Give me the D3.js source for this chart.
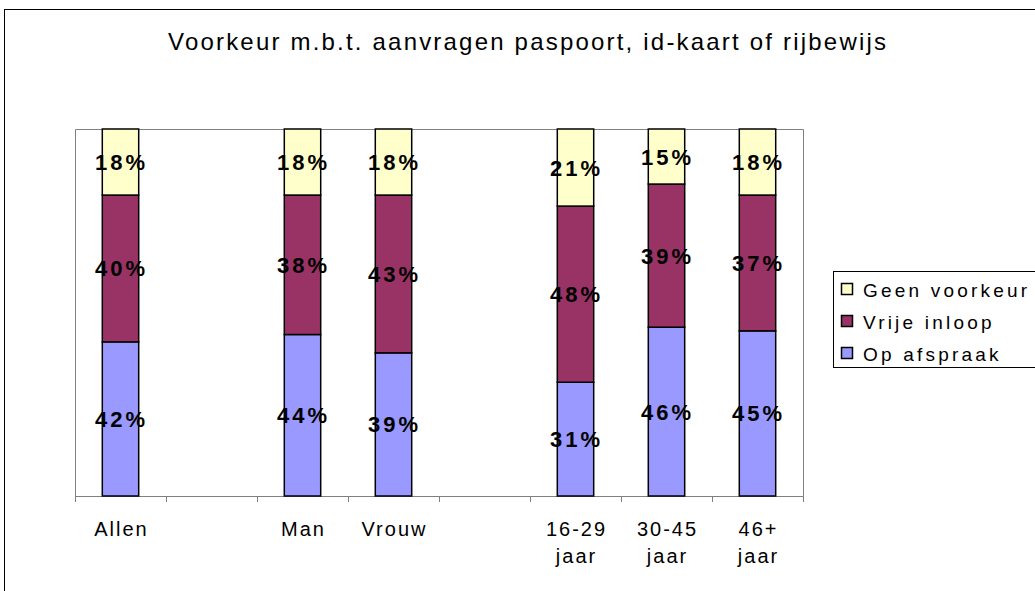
<!DOCTYPE html>
<html>
<head>
<meta charset="utf-8">
<script src="https://d3js.org/d3.v7.min.js"></script>
<style>
  body { margin: 0; background: #fff; }
  text { font-family: "Liberation Sans", Arial, sans-serif; fill: #000; }
</style>
</head>
<body>
<svg id="chart" width="1035" height="591"></svg>
<script>
    // categories (empty strings are spacer slots)
    const categories = ["Allen", "", "Man", "Vrouw", "", "16-29 jaar", "30-45 jaar", "46+ jaar"];
    const series = ["Op afspraak", "Vrije inloop", "Geen voorkeur"];
    const opAfspraak   = [42, null, 44, 39, null, 31, 46, 45];
    const vrijeInloop  = [40, null, 38, 43, null, 48, 39, 37];
    const geenVoorkeur = [18, null, 18, 18, null, 21, 15, 18];
    const colors = ["#9999FF", "#993366", "#FFFFCC"];

    const svg = d3.select("#chart");
    const width = +svg.attr("width");
    const height = +svg.attr("height");

    // outer chart frame
    svg.append("rect")
        .attr("x", 4.5).attr("y", 9.5)
        .attr("width", width + 10).attr("height", height + 10)
        .attr("fill", "none").attr("stroke", "#000").attr("stroke-width", 1);

    // title
    svg.append("text")
        .attr("x", 527).attr("y", 50)
        .attr("text-anchor", "middle")
        .attr("font-size", 24)
        .attr("textLength", 718)
        .attr("lengthAdjust", "spacing")
        .text("Voorkeur m.b.t. aanvragen paspoort, id-kaart of rijbewijs");

    const plot = {left: 75, top: 129, right: 803, bottom: 496};

    const x = d3.scaleBand()
        .domain(d3.range(categories.length))
        .range([plot.left, plot.right])
        .paddingInner(0.6).paddingOuter(0.3);
    const slot = (plot.right - plot.left) / categories.length;

    const y = d3.scaleLinear().domain([0, 100]).range([plot.bottom, plot.top]);

    // plot area border (grey)
    svg.append("path")
        .attr("d", `M${plot.left + 0.5},${plot.bottom}V${plot.top + 0.5}H${plot.right + 0.5}V${plot.bottom}`)
        .attr("fill", "none").attr("stroke", "#808080");

    // x axis with ticks between slots
    const g = svg.append("g");
    g.append("line")
        .attr("x1", plot.left).attr("x2", plot.right + 1)
        .attr("y1", plot.bottom + 0.5).attr("y2", plot.bottom + 0.5)
        .attr("stroke", "#808080");
    d3.range(categories.length + 1).forEach(i => {
        const tx = Math.round(plot.left + i * slot) + 0.5;
        g.append("line")
            .attr("x1", tx).attr("x2", tx)
            .attr("y1", plot.bottom).attr("y2", plot.bottom + 6)
            .attr("stroke", "#808080");
    });

    // category labels
    categories.forEach((c, i) => {
        if (!c) return;
        const cx = plot.left + (i + 0.5) * slot;
        const lines = c.split(" ");
        const t = svg.append("text")
            .attr("text-anchor", "middle")
            .attr("font-size", 20)
            .attr("letter-spacing", 2);
        lines.forEach((ln, k) => {
            t.append("tspan").attr("x", cx + 1).attr("y", 536 + k * 27).text(ln);
        });
    });

    // stacked data
    const rows = categories.map((c, i) => ({
        i,
        "Op afspraak": opAfspraak[i],
        "Vrije inloop": vrijeInloop[i],
        "Geen voorkeur": geenVoorkeur[i]
    })).filter(d => d["Op afspraak"] != null);

    const stack = d3.stack().keys(series)(rows);

    const layers = svg.selectAll(".layer").data(stack).join("g")
        .attr("fill", (d, k) => colors[k]);

    layers.selectAll("rect").data(d => d).join("rect")
        .attr("x", d => x(d.data.i))
        .attr("width", x.bandwidth())
        .attr("y", d => y(d[1]))
        .attr("height", d => y(d[0]) - y(d[1]))
        .attr("stroke", "#000").attr("stroke-width", 1.5);

    layers.selectAll("text").data(d => d).join("text")
        .attr("x", d => x(d.data.i) + x.bandwidth() / 2 + 1)
        .attr("y", d => (y(d[0]) + y(d[1])) / 2 + 8)
        .attr("text-anchor", "middle")
        .attr("font-weight", "bold")
        .attr("font-size", 22)
        .attr("letter-spacing", 3)
        .text(d => (d[1] - d[0]) + "%");

    // legend
    const legend = svg.append("g");
    legend.append("rect")
        .attr("x", 833.5).attr("y", 271.5)
        .attr("width", 220).attr("height", 96)
        .attr("fill", "#fff").attr("stroke", "#000");
    const legendOrder = [2, 1, 0];
    legendOrder.forEach((k, r) => {
        const base = 297 + r * 32;
        legend.append("rect")
            .attr("x", 841.5).attr("y", base - 13.5)
            .attr("width", 11).attr("height", 11)
            .attr("fill", colors[k]).attr("stroke", "#000").attr("stroke-width", 1.5);
        legend.append("text")
            .attr("x", 863).attr("y", base)
            .attr("font-size", 19)
            .attr("letter-spacing", 3.2)
            .text(series[k]);
    });
</script>
</body>
</html>
